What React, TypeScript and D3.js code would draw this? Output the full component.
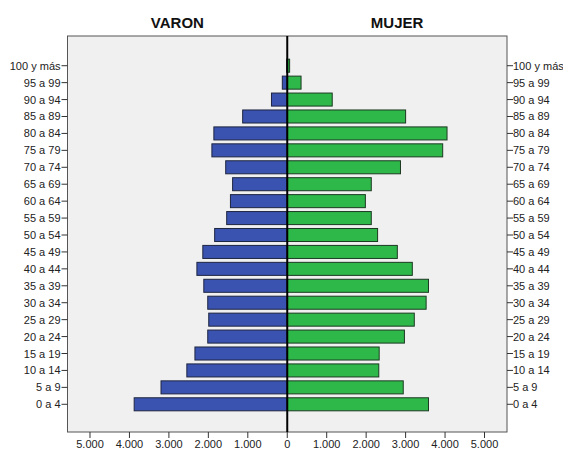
import React from "react";
import * as d3 from "d3";

const categories = [
  "100 y más", "95 a 99", "90 a 94", "85 a 89", "80 a 84", "75 a 79", "70 a 74",
  "65 a 69", "60 a 64", "55 a 59", "50 a 54", "45 a 49", "40 a 44", "35 a 39",
  "30 a 34", "25 a 29", "20 a 24", "15 a 19", "10 a 14", "5 a 9", "0 a 4",
];
const varon = [
  15, 125, 400, 1130, 1860, 1910, 1560, 1385, 1440, 1535, 1840, 2140, 2290, 2115,
  2015, 1990, 2015, 2340, 2545, 3200, 3880,
];
const mujer = [
  60, 350, 1140, 3000, 4050, 3940, 2870, 2130, 1980, 2130, 2290, 2790, 3170, 3580,
  3520, 3220, 2970, 2330, 2320, 2940, 3580,
];
const xTicks = [-5000, -4000, -3000, -2000, -1000, 0, 1000, 2000, 3000, 4000, 5000];
const titles = ["VARON", "MUJER"];

const W = 563;
const H = 451;
const left = 67.5;
const right = 507;
const top = 36;
const bottom = 432;

export default function App() {
  const x = d3.scaleLinear().domain([-5570, 5570]).range([left, right]);
  const y = d3
    .scaleBand<string>()
    .domain(categories)
    .range([57.24, 412.76])
    .paddingInner(0.23)
    .paddingOuter(0.115);
  const bw = y.bandwidth();
  const fmt = (v: number) => d3.format(",")(Math.abs(v)).replace(/,/g, ".");
  const font = "Arial, 'Liberation Sans', sans-serif";
  const x0 = x(0);

  return (
    <svg
      width={W}
      height={H}
      style={{ position: "absolute", left: 0, top: 0, background: "#fff" }}
      fontFamily={font}
    >
      <rect x={0} y={0} width={W} height={H} fill="#fff" />
      <text x={(left + x0) / 2} y={28} textAnchor="middle" fontSize={15} fontWeight="bold" fill="#111">
        {titles[0]}
      </text>
      <text x={(x0 + right) / 2} y={28} textAnchor="middle" fontSize={15} fontWeight="bold" fill="#111">
        {titles[1]}
      </text>
      <rect x={left} y={top} width={right - left} height={bottom - top} fill="#f0f0f0" stroke="#555" strokeWidth={1} />
      {categories.map((c, i) => (
        <g key={c}>
          <rect
            x={x(-varon[i])}
            y={y(c)!}
            width={x0 - x(-varon[i])}
            height={bw}
            fill="#3b53b0"
            stroke="#1d2540"
            strokeWidth={1}
          />
          <rect
            x={x0}
            y={y(c)!}
            width={x(mujer[i]) - x0}
            height={bw}
            fill="#2eb84a"
            stroke="#1c3a22"
            strokeWidth={1}
          />
        </g>
      ))}
      <line x1={x0} x2={x0} y1={top} y2={bottom} stroke="#000" strokeWidth={2} />
      {categories.map((c) => {
        const cy = y(c)! + bw / 2;
        return (
          <g key={"l" + c} fontSize={11} fill="#222">
            <line x1={left - 6} x2={left} y1={cy} y2={cy} stroke="#333" />
            <text x={left - 7} y={cy + 4} textAnchor="end">{c}</text>
            <line x1={right} x2={right + 6} y1={cy} y2={cy} stroke="#333" />
            <text x={right + 6} y={cy + 4} textAnchor="start">{c}</text>
          </g>
        );
      })}
      {xTicks.map((t) => (
        <g key={"t" + t}>
          <line x1={x(t)} x2={x(t)} y1={bottom} y2={bottom + 6} stroke="#333" />
          <text x={x(t)} y={448} textAnchor="middle" fontSize={11} fill="#222">
            {fmt(t)}
          </text>
        </g>
      ))}
    </svg>
  );
}
